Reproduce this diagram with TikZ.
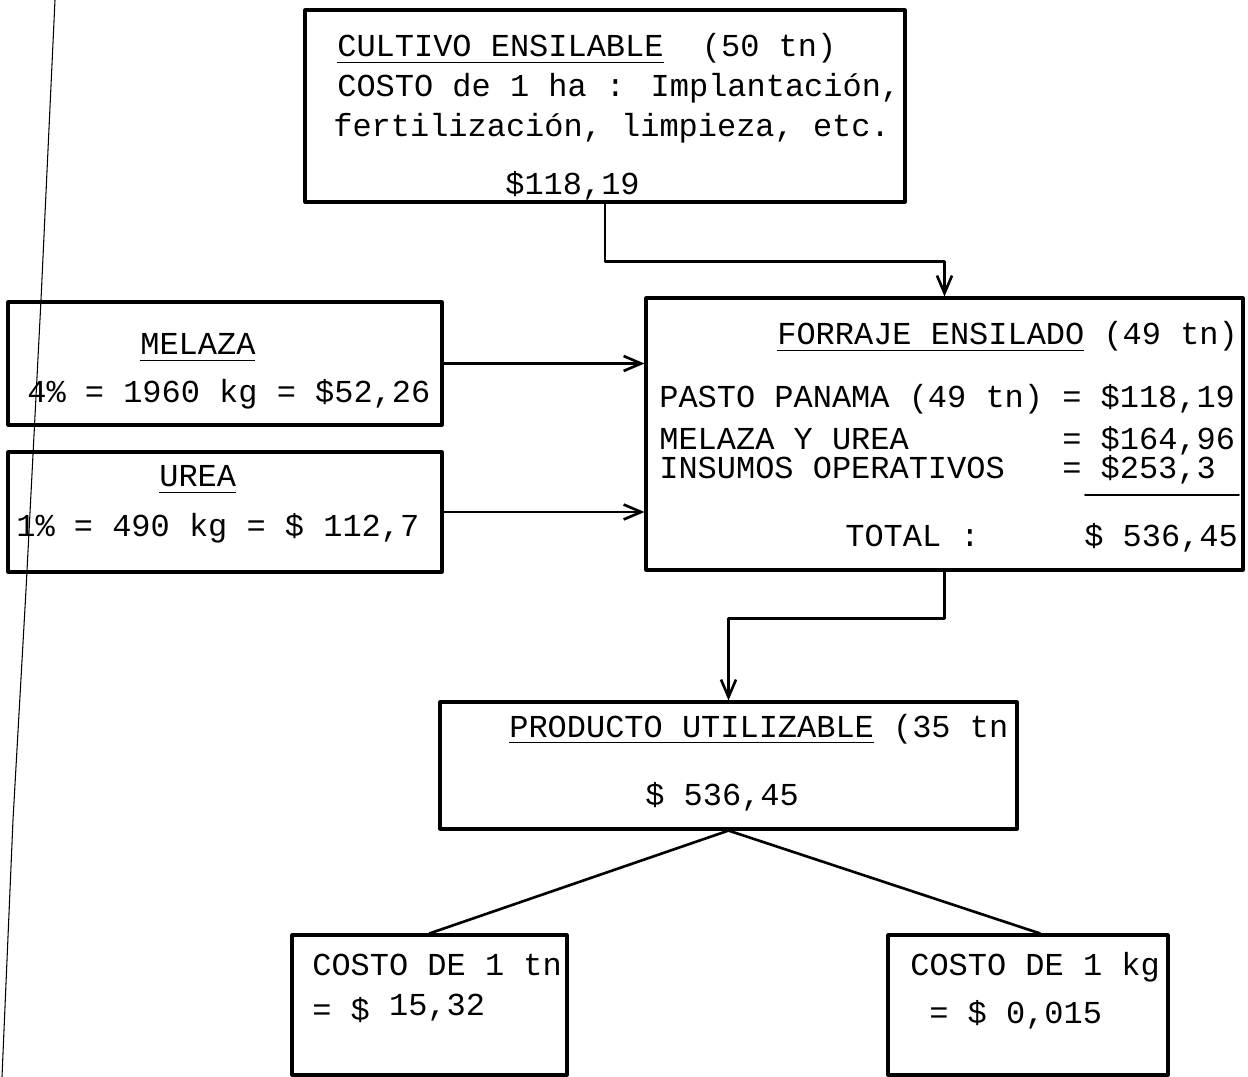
\documentclass[tikz,border=0pt]{standalone}
\usepackage{fontspec}
\newfontfamily\typewr{Liberation Mono}
\newlength{\ulwd}
\newcommand{\uln}[1]{\settowidth{\ulwd}{#1}\rlap{\rule[-3.5pt]{\ulwd}{.9pt}}#1}
\usetikzlibrary{arrows.meta}
\begin{document}
\begin{tikzpicture}[x=0.02cm, y=-0.02cm, >={Straight Barb[length=3.5mm,width=3mm]}, line join=round, line cap=round,
	font=\typewr\fontsize{18.2}{20}\selectfont,
	box/.style={draw, line width=1.8pt, inner sep=0pt},
	txt/.style={anchor=base west, inner sep=0pt},
	link/.style={line width=1.5pt}]
	\useasboundingbox (0,0) rectangle (1248,1077);
	\draw[line width=.6pt] (55,0) -- (41,300) -- (26,590) -- (13,820) -- (2,1077);
	\node[box, minimum width=12cm, minimum height=3.84cm] (cultivo) at (605,106) {};
	\node[box, minimum width=8.68cm, minimum height=2.46cm] (melaza) at (225,363.5) {};
	\node[box, minimum width=8.68cm, minimum height=2.4cm] (urea) at (225,512) {};
	\node[box, minimum width=11.94cm, minimum height=5.44cm] (forraje) at (944.5,434) {};
	\node[box, minimum width=11.54cm, minimum height=2.54cm] (producto) at (728.5,765.5) {};
	\node[box, minimum width=5.5cm, minimum height=2.8cm] (costotn) at (429.5,1005) {};
	\node[box, minimum width=5.6cm, minimum height=2.8cm] (costokg) at (1028,1005) {};
	\node[txt] (cultivoA) at (337,57) {\uln{CULTIVO ENSILABLE}~~(50 tn)};
	\node[txt] (cultivoB) at (337,97) {COSTO de 1 ha : Implantación,};
	\node[txt] (cultivoC) at (333,137) {fertilización, limpieza, etc.};
	\node[txt] (cultivoD) at (505,195) {\$118,19};
	\node[txt] (melazaA) at (140,355) {\uln{MELAZA}};
	\node[txt] (melazaB) at (27,403) {4\% = 1960 kg = \$52,26};
	\node[txt] (ureaA) at (159,487) {\uln{UREA}};
	\node[txt] (ureaB) at (16,537) {1\% = 490 kg = \$ 112,7};
	\node[txt] (forrajeA) at (777,345) {\uln{FORRAJE ENSILADO} (49 tn)};
	\node[txt] (forrajeB) at (659,408) {PASTO PANAMA (49 tn) = \$118,19};
	\node[txt] (forrajeC) at (659,450) {MELAZA Y UREA~~~~~~~~= \$164,96};
	\node[txt] (forrajeD) at (659,479) {INSUMOS OPERATIVOS~~~= \$253,3};
	\node[txt] (forrajeE) at (845,547) {TOTAL :};
	\node[txt] (forrajeF) at (1084,547) {\$ 536,45};
	\draw[line width=.9pt] (1085,495) -- (1239,495);
	\node[txt] (productoA) at (509,737) {\uln{PRODUCTO UTILIZABLE} (35 tn};
	\node[txt] (productoB) at (645,805) {\$ 536,45};
	\node[txt] (costotnA) at (312,975) {COSTO DE 1 tn};
	\node[txt] (costotnB) at (312,1020) {= \$ \raisebox{2.5pt}{15,32}};
	\node[txt] (costokgA) at (910,975) {COSTO DE 1 kg};
	\node[txt] (costokgB) at (929,1023) {= \$ 0,015};
	\draw[link,->] (cultivo.south) -- ++(0,58) -| (forraje.north);
	\draw[link,->] (melaza.east) -- (melaza.east -| forraje.west);
	\draw[link,->] (urea.east) -- (urea.east -| forraje.west);
	\draw[link,->] (forraje.south) -- ++(0,47) -| (producto.north);
	\draw[link] (producto.south) -- (costotn.north);
	\draw[link] (producto.south) -- ([xshift=.24cm]costokg.north);
\end{tikzpicture}
\end{document}
